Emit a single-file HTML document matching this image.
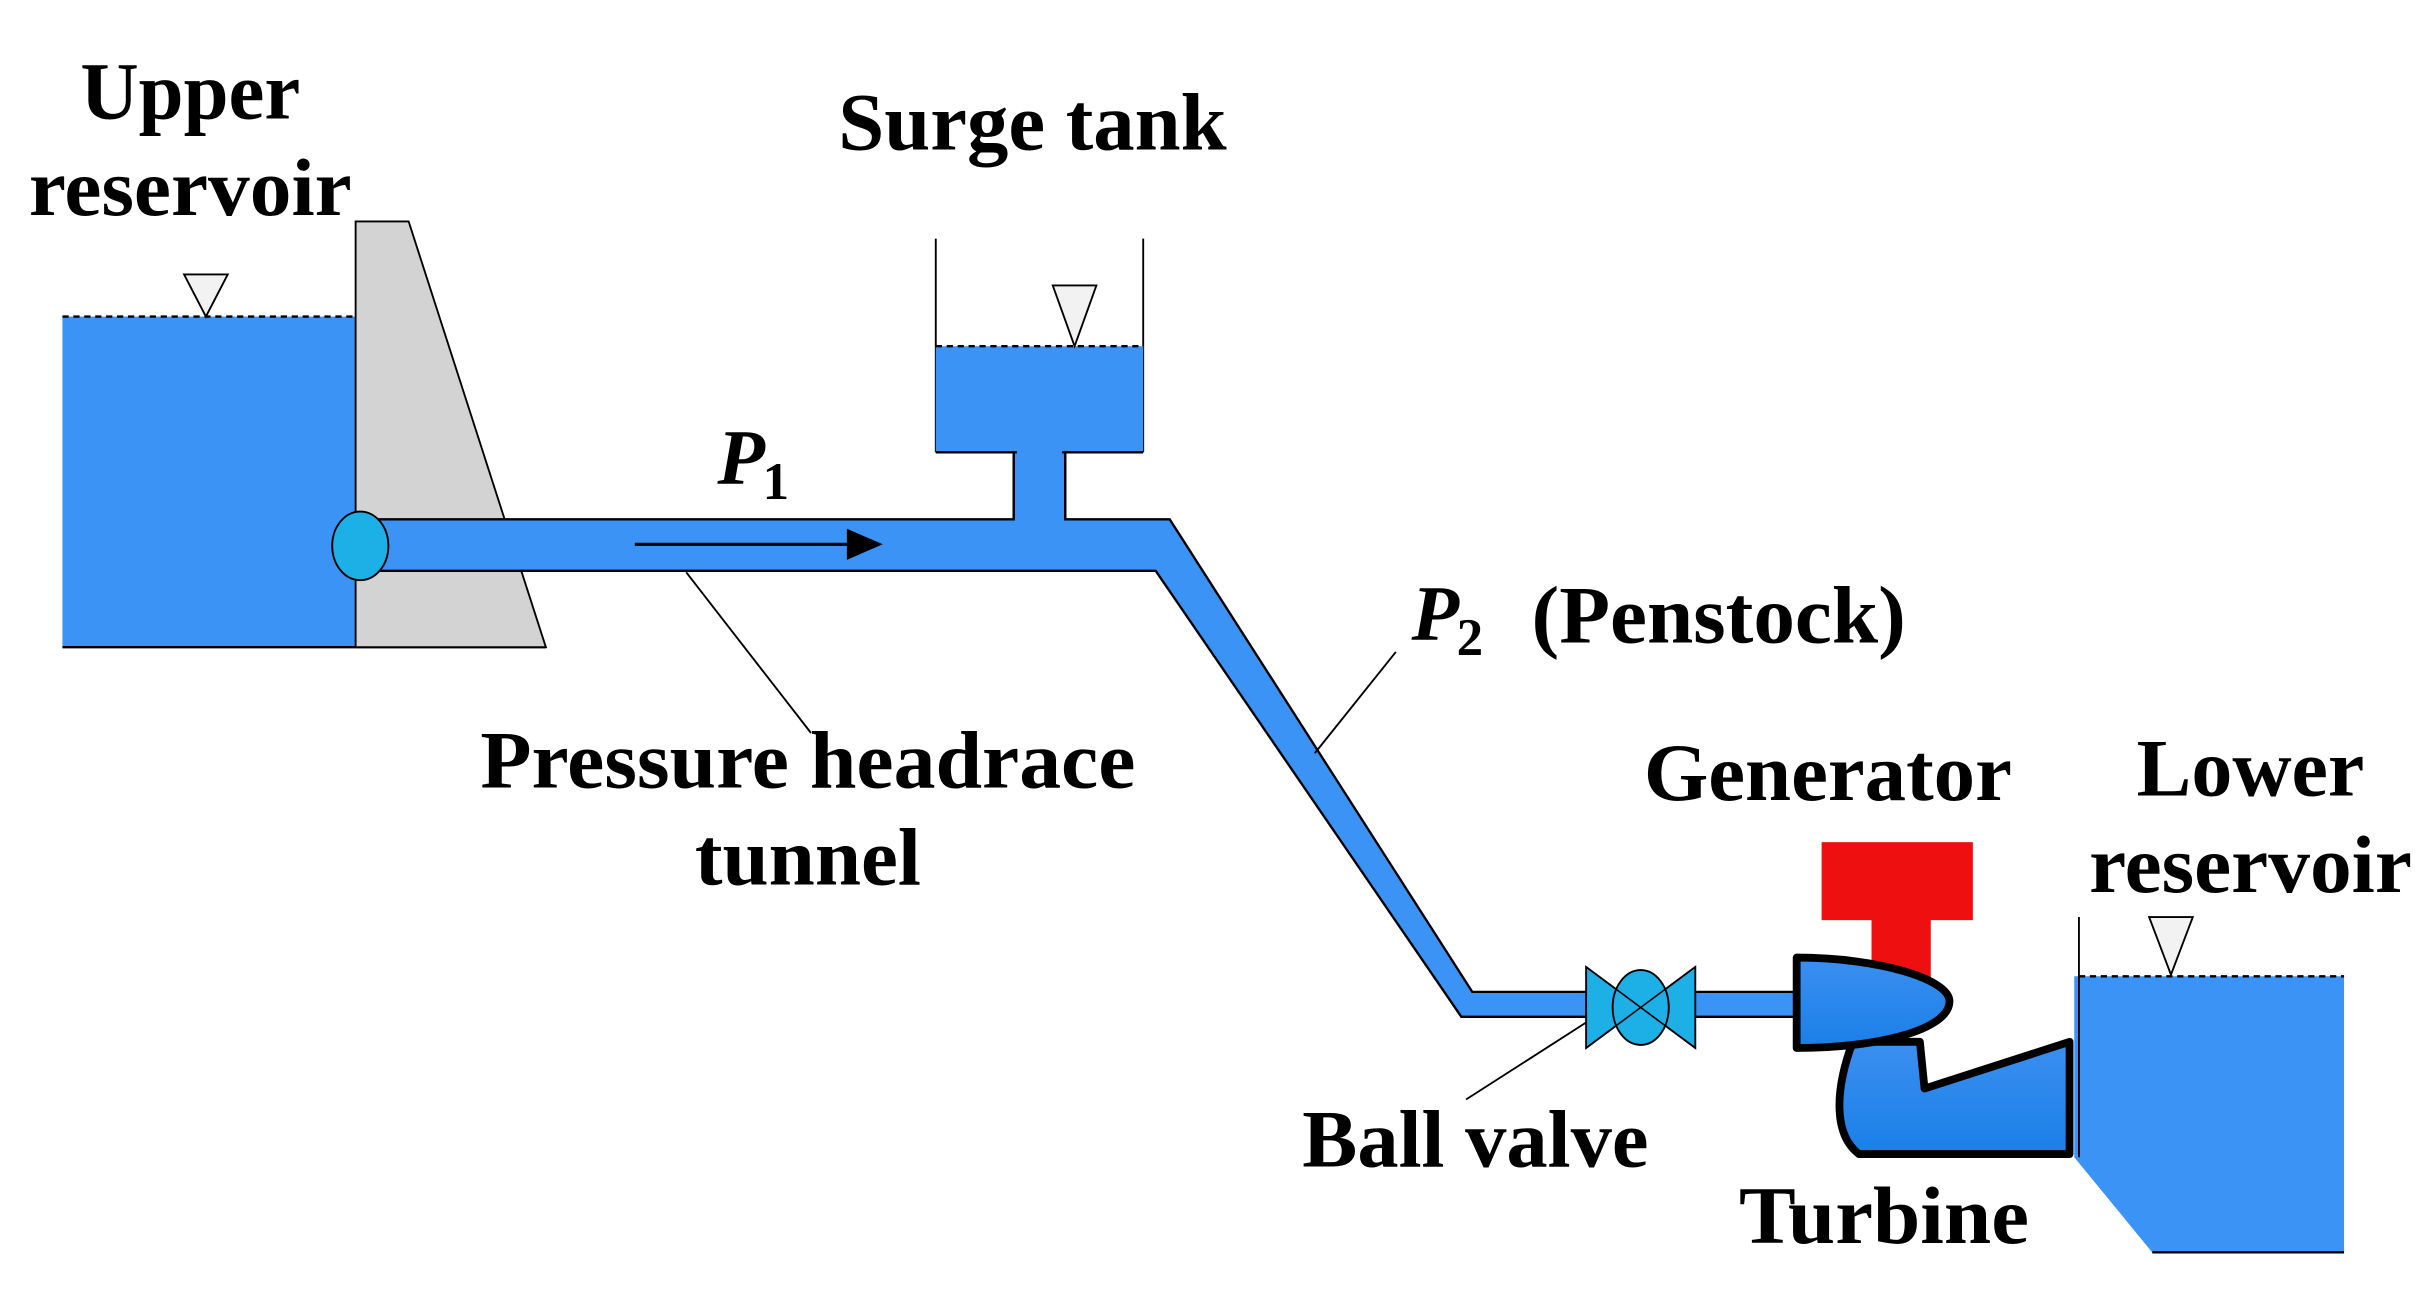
<!DOCTYPE html>
<html><head><meta charset="utf-8"><style>html,body{margin:0;padding:0;background:#fff}svg{display:block}</style></head><body>
<svg width="2433" height="1296" viewBox="0 0 1560 831" xmlns="http://www.w3.org/2000/svg" font-family="Liberation Serif, serif" font-weight="bold">
<defs><linearGradient id="tg" x1="0" y1="0" x2="0" y2="1"><stop offset="0" stop-color="#3b8ff0"/><stop offset="1" stop-color="#1a7fe8"/></linearGradient></defs>
<rect x="40" y="203" width="188" height="212" fill="#3a93f5"/>
<line x1="40" y1="415" x2="350" y2="415" stroke="#000" stroke-width="1.5"/>
<line x1="40" y1="203" x2="228" y2="203" stroke="#000" stroke-width="1.5" stroke-dasharray="4,3"/>
<polygon points="118,176 146,176 132,203" fill="#f2f2f2" stroke="#000" stroke-width="1.2"/>
<polygon points="228,142 262,142 350,415 228,415" fill="#d3d3d3" stroke="#000" stroke-width="1.2"/>
<line x1="600" y1="153" x2="600" y2="290" stroke="#000" stroke-width="1.2"/>
<line x1="733" y1="153" x2="733" y2="290" stroke="#000" stroke-width="1.2"/>
<rect x="600" y="222" width="133" height="68" fill="#3a93f5"/>
<line x1="600" y1="222" x2="733" y2="222" stroke="#000" stroke-width="1.5" stroke-dasharray="4,3"/>
<polygon points="675,183 703,183 689,222" fill="#f2f2f2" stroke="#000" stroke-width="1.2"/>
<polygon points="231,333 650,333 650,290 683,290 683,333 750,333 944,636 1162,636 1162,652 937,652 741,366 231,366" fill="#3a93f5" stroke="#000" stroke-width="1.5"/>
<rect x="652" y="288" width="29" height="50" fill="#3a93f5"/>
<line x1="600" y1="290" x2="650" y2="290" stroke="#000" stroke-width="1.5"/>
<line x1="683" y1="290" x2="733" y2="290" stroke="#000" stroke-width="1.5"/>
<line x1="650" y1="290" x2="650" y2="333" stroke="#000" stroke-width="1.5"/>
<line x1="683" y1="290" x2="683" y2="333" stroke="#000" stroke-width="1.5"/>
<ellipse cx="231" cy="350" rx="18" ry="22" fill="#1cb0e6" stroke="#000" stroke-width="1.2"/>
<line x1="407" y1="349" x2="545" y2="349" stroke="#000" stroke-width="2"/>
<polygon points="543,339 566,349 543,359" fill="#000"/>
<line x1="440" y1="367" x2="520" y2="470" stroke="#000" stroke-width="1.2"/>
<line x1="895" y1="418" x2="843" y2="483" stroke="#000" stroke-width="1.2"/>
<line x1="1018" y1="655" x2="940" y2="705" stroke="#000" stroke-width="1.2"/>
<polygon points="1017,620 1017,672 1087,620 1087,672" fill="#1cb0e6" stroke="#000" stroke-width="1.2"/>
<ellipse cx="1052" cy="646" rx="18" ry="24" fill="#1cb0e6" stroke="#000" stroke-width="1.2"/>
<line x1="1017" y1="620" x2="1087" y2="672" stroke="#000" stroke-width="1"/>
<line x1="1017" y1="672" x2="1087" y2="620" stroke="#000" stroke-width="1"/>
<rect x="1168" y="540" width="97" height="50" fill="#ee1010"/>
<rect x="1200" y="588" width="38" height="40" fill="#ee1010"/>
<path d="M1188,668 C1176,700 1176,728 1192,740 L1327,740 L1327,668 L1234,698 L1231,668 Z" fill="url(#tg)" stroke="#000" stroke-width="5" stroke-linejoin="round"/>
<path d="M1152,614 C1205,614 1250,628 1250,642 C1250,660 1205,672 1152,672 Z" fill="url(#tg)" stroke="#000" stroke-width="5" stroke-linejoin="round"/>
<polygon points="1330,626 1503,626 1503,803 1380,803 1330,742" fill="#3a93f5"/>
<line x1="1380" y1="803" x2="1503" y2="803" stroke="#000" stroke-width="1.5"/>
<line x1="1333" y1="588" x2="1333" y2="742" stroke="#000" stroke-width="1.2"/>
<line x1="1333" y1="626" x2="1503" y2="626" stroke="#000" stroke-width="1.5" stroke-dasharray="4,3"/>
<polygon points="1378,588 1406,588 1392,625" fill="#f2f2f2" stroke="#000" stroke-width="1.2"/>
<g font-size="52" fill="#000" text-anchor="middle" lengthAdjust="spacingAndGlyphs">
<text x="122" y="76" textLength="141" lengthAdjust="spacingAndGlyphs">Upper</text>
<text x="122" y="138" textLength="207" lengthAdjust="spacingAndGlyphs">reservoir</text>
<text x="662" y="96" textLength="249" lengthAdjust="spacingAndGlyphs">Surge tank</text>
<text x="518" y="505" textLength="420" lengthAdjust="spacingAndGlyphs">Pressure headrace</text>
<text x="518" y="567" textLength="145" lengthAdjust="spacingAndGlyphs">tunnel</text>
<text x="1102" y="412" textLength="240" lengthAdjust="spacingAndGlyphs">(Penstock)</text>
<text x="1172" y="513" textLength="236" lengthAdjust="spacingAndGlyphs">Generator</text>
<text x="1443" y="510" textLength="146" lengthAdjust="spacingAndGlyphs">Lower</text>
<text x="1443" y="572" textLength="207" lengthAdjust="spacingAndGlyphs">reservoir</text>
<text x="946" y="748" textLength="222" lengthAdjust="spacingAndGlyphs">Ball valve</text>
<text x="1208" y="797" textLength="186" lengthAdjust="spacingAndGlyphs">Turbine</text>
</g>
<text x="460" y="310" font-size="50" font-style="italic">P</text><text x="489" y="320" font-size="34">1</text>
<text x="905" y="410" font-size="50" font-style="italic">P</text><text x="934" y="420" font-size="34">2</text>
</svg>
</body></html>
